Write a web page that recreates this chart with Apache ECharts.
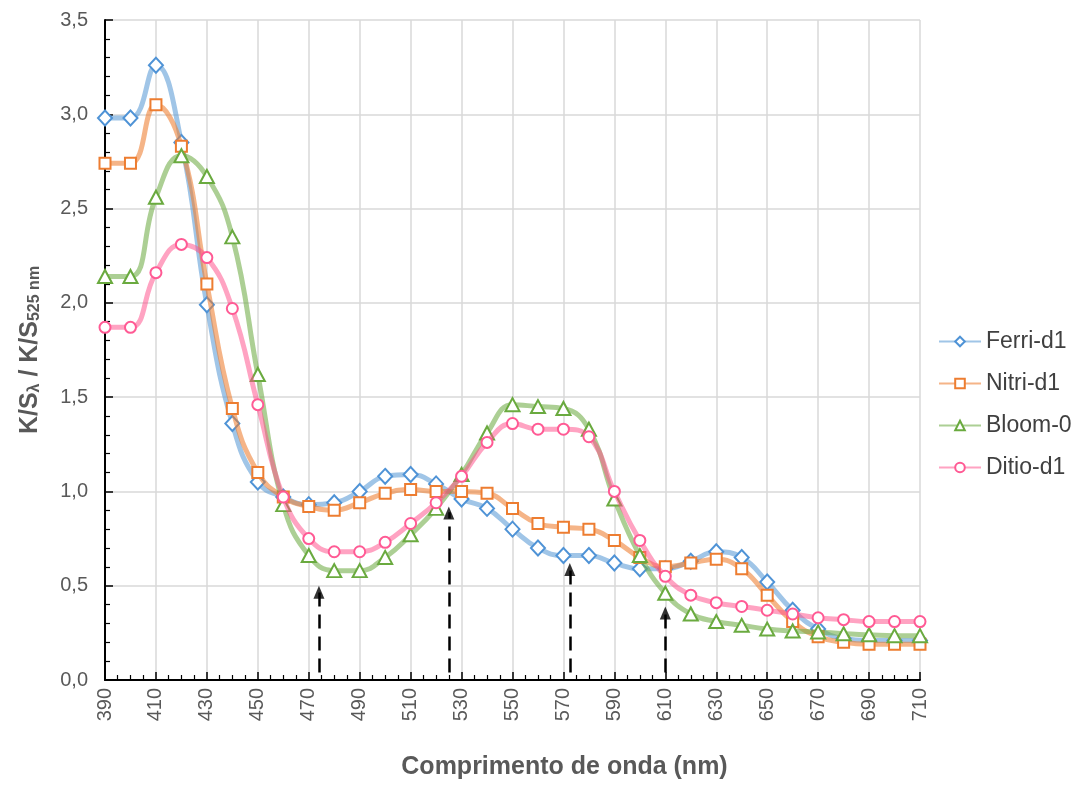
<!DOCTYPE html>
<html>
<head>
<meta charset="utf-8">
<script src="https://cdn.jsdelivr.net/npm/echarts@6/dist/echarts.min.js"></script>
<style>html,body{margin:0;padding:0;background:#fff;}#c{width:1089px;height:785px;}</style>
</head>
<body>
<div id="c"></div>
<script>
var wavelengths = [390,400,410,420,430,440,450,460,470,480,490,500,510,520,530,540,550,560,570,580,590,600,610,620,630,640,650,660,670,680,690,700,710];
var ferri = [2.98,2.98,3.26,2.85,1.99,1.36,1.05,0.97,0.93,0.94,1.00,1.08,1.09,1.04,0.96,0.91,0.80,0.70,0.66,0.66,0.62,0.59,0.59,0.63,0.68,0.65,0.52,0.37,0.27,0.22,0.21,0.21,0.21];
var nitri = [2.74,2.74,3.05,2.83,2.10,1.44,1.10,0.97,0.92,0.90,0.94,0.99,1.01,1.00,1.00,0.99,0.91,0.83,0.81,0.80,0.74,0.65,0.60,0.62,0.64,0.59,0.45,0.31,0.23,0.20,0.19,0.19,0.19];
var bloom = [2.14,2.14,2.56,2.78,2.67,2.35,1.62,0.93,0.66,0.58,0.58,0.65,0.77,0.91,1.09,1.31,1.46,1.45,1.44,1.33,0.96,0.66,0.46,0.35,0.31,0.29,0.27,0.26,0.255,0.245,0.24,0.235,0.235];
var ditio = [1.87,1.87,2.16,2.31,2.24,1.97,1.46,0.97,0.75,0.68,0.68,0.73,0.83,0.94,1.08,1.26,1.36,1.33,1.33,1.29,1.00,0.74,0.55,0.45,0.41,0.39,0.37,0.35,0.33,0.32,0.31,0.31,0.31];
var seriesNames = ['Ferri-d1','Nitri-d1','Bloom-0','Ditio-d1'];
// arrows: wavelength, start value, tip value
var arrowX = [474, 525, 572.5, 610];
var arrowBottom = [0.04, 0.04, 0.04, 0.04];
var arrowTip = [0.50, 0.92, 0.62, 0.39];

var chart = echarts.init(document.getElementById('c'));
function pairs(vals){ return wavelengths.map(function(w,i){ return [w, vals[i]]; }); }
var marker = ['#4f93d6','#ed7d31','#6aaa3f','#ff5a94'];
var lineCol = ['rgba(91,155,213,0.58)','rgba(237,125,49,0.58)','rgba(112,173,71,0.58)','rgba(255,79,139,0.52)'];
var symbols = ['diamond','rect','triangle','circle'];
var symSizes = [[14,15],11,[14,13],11];
var allVals = [ferri, nitri, bloom, ditio];
var FONT = '"Liberation Sans", Arial, sans-serif';

var series = allVals.map(function(v, i){
  return {
    name: seriesNames[i], type: 'line', data: pairs(v), smooth: 0.45,
    symbol: symbols[i], symbolSize: symSizes[i], showAllSymbol: true,
    lineStyle: { color: lineCol[i], width: 5 },
    itemStyle: { color: '#ffffff', borderColor: marker[i], borderWidth: 2 },
    emphasis: { disabled: true }, z: 3 + i
  };
});
var arrows = arrowX.map(function(x, i){
  return [{ coord: [x, arrowBottom[i]] }, { coord: [x, arrowTip[i] - 0.03] }];
});
series.push({
  name: 'arrowLines', type: 'line', data: [], silent: true, z: 10,
  markLine: {
    silent: true, symbol: ['none','none'],
    label: { show: false },
    lineStyle: { color: '#000', width: 2.5, type: [14, 8] },
    emphasis: { disabled: true },
    animation: false,
    data: arrows
  }
});
series.push({
  name: 'arrowHeads', type: 'scatter', silent: true, z: 11,
  data: arrowX.map(function(x, i){ return [x, arrowTip[i]]; }),
  symbol: 'triangle', symbolSize: [11, 13], symbolOffset: [0, '50%'],
  itemStyle: { color: '#000' }, emphasis: { disabled: true }
});

chart.setOption({
  animation: false,
  backgroundColor: '#ffffff',
  textStyle: { fontFamily: FONT },
  grid: { left: 105, right: 169, top: 20, bottom: 103, containLabel: false },
  legend: {
    data: seriesNames, orient: 'vertical', left: 933, top: 325,
    itemWidth: 42, itemHeight: 12, itemGap: 19,
    textStyle: { fontSize: 23, color: '#404040', fontFamily: FONT }
  },
  xAxis: {
    type: 'value', min: 390, max: 710, interval: 20,
    name: 'Comprimento de onda (nm)', nameLocation: 'middle', nameGap: 75,
    nameTextStyle: { fontSize: 25, fontWeight: 'bold', color: '#595959', fontFamily: FONT, padding: [0,0,0,104] },
    axisLine: { show: true, onZero: false, lineStyle: { color: '#000', width: 2 } },
    axisTick: { show: true, inside: true, length: 8, lineStyle: { color: '#000', width: 1.5 } },
    minorTick: { show: true, splitNumber: 4, length: 5, lineStyle: { color: '#000', width: 1.2 } },
    axisLabel: { rotate: 90, fontSize: 20, color: '#595959', margin: 8, fontFamily: FONT },
    splitLine: { show: true, lineStyle: { color: '#d9d9d9', width: 1.5 } }
  },
  yAxis: {
    type: 'value', min: 0, max: 3.5, interval: 0.5,
    name: '{b|K/S}{s|λ}{b| / K/S}{s|525 nm}', nameLocation: 'middle', nameGap: 62, nameRotate: 90,
    nameTextStyle: {
      color: '#595959', padding: [0,0,0,0],
      rich: {
        b: { fontSize: 25, fontWeight: 'bold', color: '#595959', fontFamily: FONT, verticalAlign: 'bottom', lineHeight: 30 },
        s: { fontSize: 16, fontWeight: 'bold', color: '#595959', fontFamily: FONT, verticalAlign: 'bottom', lineHeight: 22 }
      }
    },
    axisLine: { show: true, lineStyle: { color: '#000', width: 2 } },
    axisTick: { show: true, inside: true, length: 8, lineStyle: { color: '#000', width: 1.5 } },
    minorTick: { show: true, splitNumber: 5, length: 5, lineStyle: { color: '#000', width: 1.2 } },
    axisLabel: { fontSize: 20, color: '#595959', margin: 17, fontFamily: FONT,
      formatter: function(v){ return v.toFixed(1).replace('.', ','); } },
    splitLine: { show: true, lineStyle: { color: '#d9d9d9', width: 1.5 } }
  },
  series: series
});
</script>
</body>
</html>
